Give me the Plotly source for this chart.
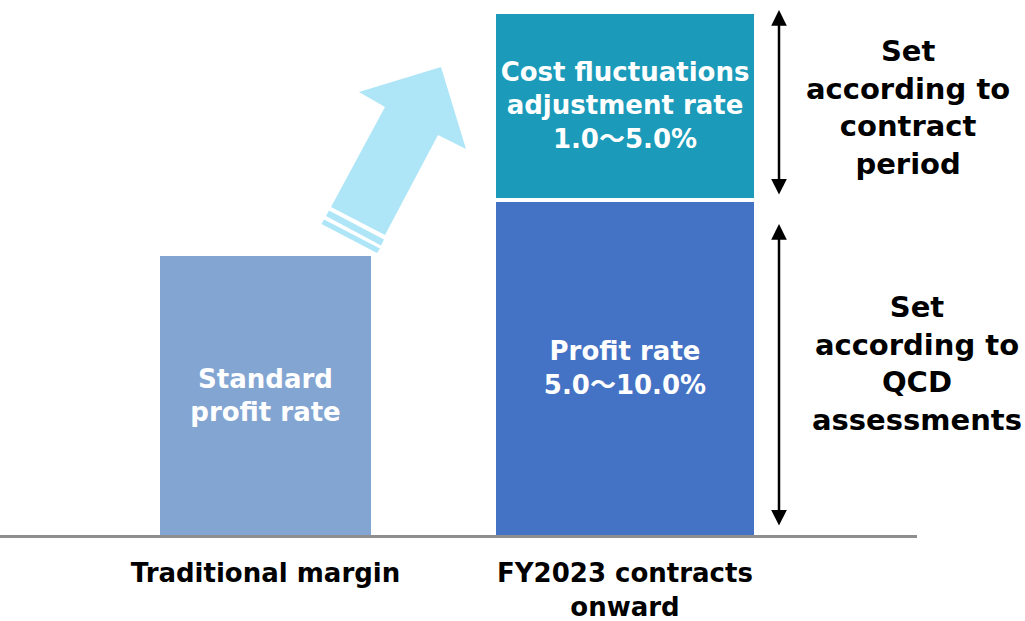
import plotly.graph_objects as go

# ---- data ----
categories = ["Traditional margin", "FY2023 contracts<br>onward"]
standard_profit = [2.79, None]          # conceptual bar height (relative units)
profit_rate = [None, 3.33]
cost_adjust = [None, 1.84]
gap = 0.04
TILDE = "<span style=\"font-family:'Noto Sans CJK JP'\">～</span>"
bar_labels_standard = ["Standard<br>profit rate", ""]
bar_labels_profit = ["", f"Profit rate<br>5.0{TILDE}10.0%"]
bar_labels_cost = ["", f"Cost fluctuations<br>adjustment rate<br>1.0{TILDE}5.0%"]
right_text_top = "Set<br>according to<br>contract<br>period"
right_text_bottom = "Set<br>according to<br>QCD<br>assessments"

W, H = 1025, 621
FONT = "DejaVu Sans"

fig = go.Figure()
fig.add_trace(go.Bar(
    x=categories, y=standard_profit, width=0.587,
    marker=dict(color="#83A5D2", line=dict(width=0)),
    text=bar_labels_standard, textposition="inside", insidetextanchor="middle",
    textfont=dict(color="white", size=26, family=FONT, weight="bold"),
    hoverinfo="skip"))
fig.add_trace(go.Bar(
    x=categories, y=profit_rate, width=0.718,
    marker=dict(color="#4472C4", line=dict(width=0)),
    text=bar_labels_profit, textposition="inside", insidetextanchor="middle",
    textfont=dict(color="white", size=26, family=FONT, weight="bold"),
    hoverinfo="skip"))
fig.add_trace(go.Bar(
    x=categories, y=cost_adjust, width=0.718,
    base=[None, profit_rate[1] + gap],
    marker=dict(color="#1B9AB9", line=dict(width=0)),
    text=bar_labels_cost, textposition="inside", insidetextanchor="middle",
    textfont=dict(color="white", size=26, family=FONT, weight="bold"),
    hoverinfo="skip"))

# arrow decoration (pixel coordinates -> paper x / data y)
def P(xp, yp):
    return f"{xp / W:.5f},{(535 - yp) / 100:.4f}"

def poly(pts):
    return "M " + " L ".join(P(*p) for p in pts) + " Z"

arrow_pts = [(441, 67), (359, 92), (385, 107), (331, 207), (385, 235), (438, 135), (466, 149)]
stripe1 = [(329, 210.5), (384, 239.5), (381, 245.5), (326, 216)]
stripe2 = [(324, 219.5), (380, 248.5), (377, 253), (321.5, 224)]
shapes = []
for pts in (arrow_pts, stripe1, stripe2):
    shapes.append(dict(type="path", path=poly(pts), xref="paper", yref="y",
                       fillcolor="#AEE6F7", line=dict(width=0), layer="above"))

annotations = []
# double-headed arrows
for ytop, ybot in ((5.25, 3.39), (3.11, 0.08)):
    annotations.append(dict(x=779 / W, xref="paper", y=ytop, yref="y",
                            ax=0, axref="pixel", ay=ybot, ayref="y",
                            text="", showarrow=True, arrowhead=2, arrowside="end+start",
                            arrowwidth=2.5, arrowsize=1.25, arrowcolor="black"))
annotations.append(dict(x=908 / W, xref="paper", y=(535 - 107) / 100, yref="y",
                        xanchor="center", yanchor="middle",
                        text=right_text_top, showarrow=False,
                        font=dict(size=29, color="black", family=FONT, weight="bold")))
annotations.append(dict(x=917 / W, xref="paper", y=(535 - 363) / 100, yref="y",
                        xanchor="center", yanchor="middle",
                        text=right_text_bottom, showarrow=False,
                        font=dict(size=29, color="black", family=FONT, weight="bold")))

fig.update_layout(
    width=W, height=H, barmode="overlay",
    margin=dict(l=0, r=0, t=0, b=86, pad=0, autoexpand=False),
    paper_bgcolor="white", plot_bgcolor="white",
    showlegend=False, bargap=0,
    shapes=shapes, annotations=annotations,
    xaxis=dict(domain=[0, 917 / W], range=[-0.7385, 1.8123], showgrid=False, zeroline=False,
               showline=True, linecolor="#8E8E8E", linewidth=3, automargin=False,
               ticks="outside", ticklen=13, tickcolor="rgba(0,0,0,0)",
               tickfont=dict(size=26, color="black", family=FONT, weight="bold")),
    yaxis=dict(range=[0, 5.35], visible=False, showgrid=False, zeroline=False, automargin=False),
)
fig.update_traces(cliponaxis=False)
fig.write_html("out.html", config={"displayModeBar": False},
               post_script="document.body.style.margin='0';")
